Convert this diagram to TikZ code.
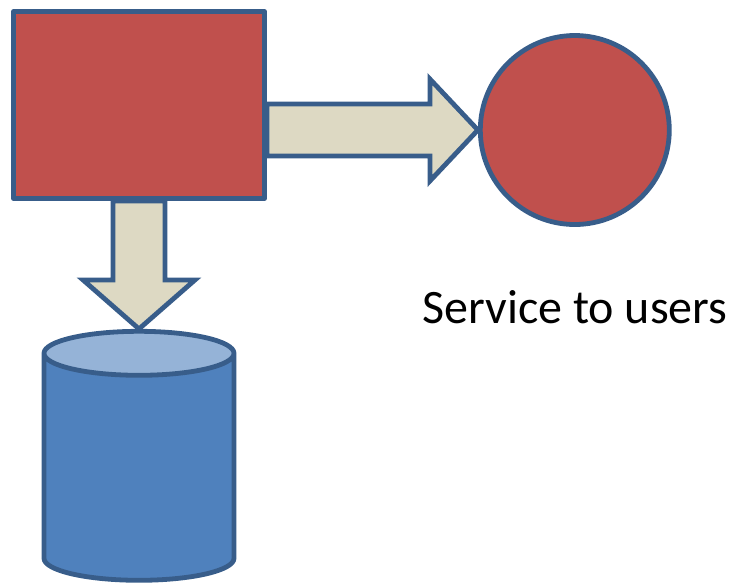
\documentclass[tikz,border=0pt]{standalone}
\usepackage{fontspec}
\setmainfont{Carlito}
\usetikzlibrary{positioning, shapes.geometric, calc}
\definecolor{boxred}{HTML}{C0504D}
\definecolor{edgeblue}{HTML}{385D8A}
\definecolor{dbblue}{HTML}{4F81BD}
\definecolor{dbtop}{HTML}{95B3D7}
\definecolor{arrowbeige}{HTML}{DDD9C3}
\tikzset{
    every node/.style={inner sep=0pt}, % sizes are the drawn sizes
    outlined/.style={draw=edgeblue, line width=2.4pt, line join=round}, % common outline of all shapes
    server/.style={outlined, rectangle, fill=boxred, minimum width=125.5pt, minimum height=93.5pt},
    user/.style={outlined, circle, fill=boxred, minimum size=94.5pt},
    store/.style={outlined, cylinder, shape border rotate=90, inner sep=10pt, aspect=1.1,
        cylinder uses custom fill, cylinder body fill=dbblue, cylinder end fill=dbtop,
        minimum width=95pt, minimum height=124.5pt}, % the database
    fatarrow/.style={draw=edgeblue, line width=2.4pt, fill=arrowbeige, line join=miter},
}

\begin{document}
\begin{tikzpicture}

    \useasboundingbox (0,0) rectangle (365pt,-293pt);

    \node[server] (box) at (69.5pt,-52.5pt) {};
    \node[user, right=105.5pt of box.east, yshift=-12.5pt] (usr) {};
    \node[store, below=64pt of box] (db) {};
    \node[font=\fontsize{24}{29}\selectfont, anchor=base] (svc) at ($(usr.south)+(0,-48.5pt)$) {Service to users};

    % block arrow to the users
    \draw[fatarrow] let \p1 = (box.east |- usr.west), \p2 = (usr.west) in
        (\x1,\y1+13pt) -- (\x2-24pt,\y1+13pt) -- (\x2-24pt,\y1+25.5pt) -- (\p2)
        -- (\x2-24pt,\y1-25.5pt) -- (\x2-24pt,\y1-13pt) -- (\x1,\y1-13pt) -- cycle;
    % block arrow to the database
    \draw[fatarrow] let \p1 = (box.south), \p2 = (db.north) in
        (\x1-13pt,\y1) -- (\x1-13pt,\y2+24.5pt) -- (\x1-28pt,\y2+24.5pt) -- (\p2)
        -- (\x1+28pt,\y2+24.5pt) -- (\x1+13pt,\y2+24.5pt) -- (\x1+13pt,\y1) -- cycle;

\end{tikzpicture}
\end{document}
